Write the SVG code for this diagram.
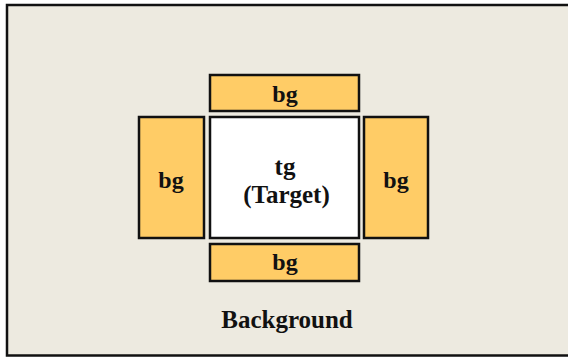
<svg xmlns="http://www.w3.org/2000/svg" width="568" height="357" viewBox="0 0 568 357">
<style>
.bg{fill:#FFCC66;stroke:#111;stroke-width:2.5}
.tg{fill:#FFFFFF;stroke:#111;stroke-width:2.5}
text{font-family:"Liberation Serif","Times New Roman",serif;font-weight:bold;font-size:24px;fill:#111;text-anchor:middle}
.big{font-size:25px}
</style>
<rect width="568" height="357" fill="#FFFFFF"/>
<g id="background">
<rect x="7" y="5" width="575" height="350.5" fill="#EDEAE0" stroke="#111" stroke-width="2.5"/>
<text class="big" x="287" y="328">Background</text>
</g>
<g id="bg-top">
<rect class="bg" x="210" y="75" width="149" height="36"/>
<text x="285" y="102">bg</text>
</g>
<g id="bg-left">
<rect class="bg" x="139" y="117" width="65" height="121"/>
<text x="171" y="188">bg</text>
</g>
<g id="target">
<rect class="tg" x="210" y="117" width="149" height="121"/>
<text class="big" x="285" y="175">tg</text>
<text class="big" x="286.5" y="203">(Target)</text>
</g>
<g id="bg-right">
<rect class="bg" x="364" y="117" width="64" height="121"/>
<text x="396" y="188">bg</text>
</g>
<g id="bg-bottom">
<rect class="bg" x="210" y="244" width="149" height="37"/>
<text x="285" y="270">bg</text>
</g>
</svg>
